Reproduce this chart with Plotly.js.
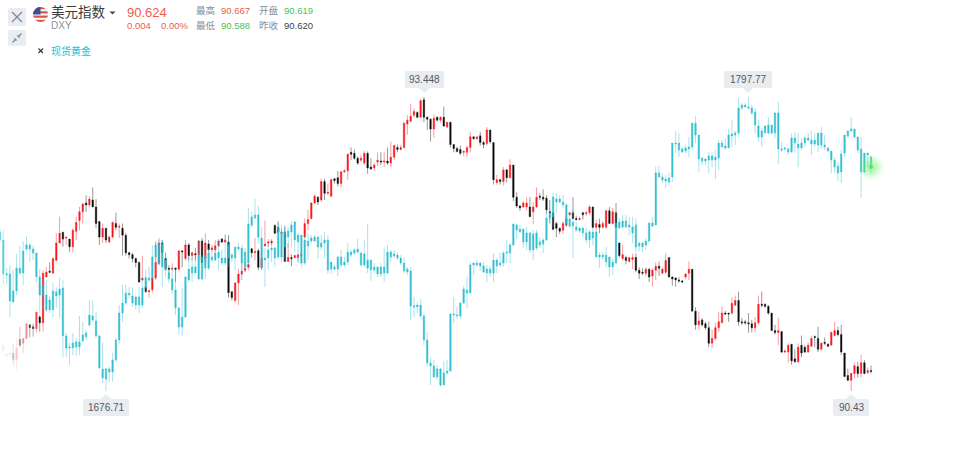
<!DOCTYPE html>
<html>
<head>
<meta charset="utf-8">
<script src="https://cdn.plot.ly/plotly-3.0.1.min.js"></script>
<style>
html,body{margin:0;padding:0;background:#fff;width:960px;height:452px;overflow:hidden}
#wrap{position:relative;width:960px;height:452px}
#chart{position:absolute;left:0;top:0;width:960px;height:452px}
#flag{position:absolute;left:33px;top:7px;width:15px;height:15px}
</style>
</head>
<body>
<div id="wrap">
<div id="chart"></div>
<svg id="flag" viewBox="0 0 14 14">
<defs><clipPath id="c"><circle cx="7" cy="7" r="7"/></clipPath></defs>
<g clip-path="url(#c)">
<rect width="14" height="14" fill="#f7f7f7"/>
<rect y="0" width="14" height="2" fill="#d9534f"/><rect y="4" width="14" height="2" fill="#d9534f"/>
<rect y="8" width="14" height="2" fill="#d9534f"/><rect y="12" width="14" height="2" fill="#d9534f"/>
<rect width="7" height="7" fill="#3f4f8f"/>
</g>
</svg>
</div>
<script>
// 美元指数 DXY: one value per candle
const dxyHigh = [
90.92,90.83,90.84,90.92,90.97,91.09,90.97,91.12,91.11,91.12,
91.24,91.21,91.67,91.70,91.75,91.80,92.05,92.22,92.06,92.01,
91.99,92.10,92.22,92.32,92.36,92.44,92.43,92.52,92.40,92.17,
92.15,92.10,92.03,92.17,92.26,92.15,92.15,92.05,91.86,91.85,
91.80,91.76,91.82,91.60,91.47,91.59,91.96,92.00,91.98,91.85,
91.72,91.74,91.70,91.87,91.87,91.98,91.95,91.86,91.90,91.98,
92.00,92.05,91.98,91.93,91.98,91.99,92.00,92.03,92.03,91.45,
91.55,91.68,91.75,91.74,91.74,91.90,92.00,91.89,91.90,92.18,
91.99,91.99,92.14,92.17,92.10,92.12,91.95,91.83,91.83,91.83,
91.84,92.20,92.29,92.37,92.45,92.43,92.61,92.61,92.56,92.61,
92.61,92.69,92.69,92.71,92.87,92.93,92.91,92.84,92.85,92.89,
92.89,92.82,92.77,92.88,92.88,92.88,92.93,92.99,92.96,92.96,
92.95,93.19,93.26,93.38,93.33,93.30,93.43,93.448,93.25,93.23,
93.27,93.25,93.25,93.35,93.19,93.19,92.96,92.94,92.95,92.90,
92.95,93.09,93.04,93.04,93.09,93.00,93.14,93.11,92.98,92.65,
92.61,92.73,92.71,92.81,92.75,92.47,92.34,92.38,92.42,92.42,
92.37,92.52,92.46,92.50,92.44,92.39,92.26,92.17,92.11,92.17,
92.24,92.27,92.42,92.23,92.22,92.27,92.28,92.34,92.32,92.19,
92.20,92.17,92.29,92.32,92.31,92.36,91.95,91.93,91.82,91.80,
91.84,91.84,91.70,91.69,91.70,91.69,91.69,91.75,91.76,91.70,
91.84,91.80,91.61,91.60,91.60,91.57,91.64,91.76,91.68,91.29,
91.24,91.18,91.14,91.14,91.06,91.13,91.24,91.30,91.25,91.23,
91.39,91.41,91.45,91.18,91.16,91.23,91.16,91.19,91.41,91.45,
91.33,91.31,91.23,91.11,91.18,91.04,90.86,90.92,90.91,90.86,
90.92,91.00,90.90,90.93,91.00,91.00,91.09,90.93,90.98,90.92,
91.04,91.14,91.09,91.11,90.82,90.66,90.62,90.72,90.73,90.80,
90.75,90.67,90.69];
const dxyOpen = [
90.84,90.79,90.80,90.82,90.75,90.96,90.92,90.97,91.11,91.09,
91.07,91.19,91.13,91.60,91.66,91.64,91.77,91.95,92.06,92.00,
91.99,91.91,92.07,92.18,92.27,92.36,92.34,92.39,92.32,92.17,
92.01,92.10,91.96,92.01,92.15,92.11,92.10,92.03,91.85,91.83,
91.79,91.75,91.57,91.50,91.45,91.47,91.59,91.74,91.95,91.79,
91.69,91.68,91.69,91.68,91.87,91.79,91.93,91.82,91.84,91.83,
91.97,91.79,91.94,91.88,91.88,91.92,91.99,91.96,91.96,91.45,
91.36,91.54,91.63,91.67,91.70,91.89,91.85,91.87,91.70,91.92,
91.95,91.95,92.13,92.11,92.05,92.06,91.76,91.80,91.80,91.80,
91.82,92.01,92.15,92.20,92.36,92.42,92.39,92.58,92.46,92.43,
92.61,92.62,92.56,92.68,92.69,92.88,92.87,92.82,92.80,92.77,
92.87,92.73,92.72,92.78,92.79,92.78,92.79,92.77,92.83,92.93,
92.91,92.93,93.17,93.20,93.26,93.29,93.24,93.42,93.24,93.22,
93.12,93.24,93.21,93.24,93.14,93.19,92.96,92.92,92.91,92.88,
92.88,92.93,93.04,93.02,93.05,92.98,92.97,93.11,92.98,92.57,
92.60,92.58,92.70,92.62,92.75,92.42,92.33,92.32,92.32,92.32,
92.27,92.32,92.43,92.42,92.41,92.27,92.26,92.15,92.10,92.08,
92.13,92.24,92.26,92.20,92.19,92.26,92.25,92.26,92.32,92.11,
92.14,92.11,92.11,92.28,92.15,92.26,91.95,91.79,91.80,91.76,
91.78,91.80,91.67,91.65,91.64,91.68,91.61,91.67,91.71,91.64,
91.65,91.80,91.60,91.59,91.57,91.56,91.60,91.64,91.68,91.25,
91.11,91.16,91.12,91.08,90.92,90.97,91.08,91.13,91.23,91.23,
91.23,91.31,91.36,91.14,91.14,91.13,91.12,91.08,91.13,91.32,
91.32,91.30,91.23,91.05,91.03,91.04,90.83,90.83,90.91,90.76,
90.73,90.90,90.88,90.83,90.89,90.99,90.97,90.86,90.93,90.91,
90.90,91.00,91.05,91.01,90.82,90.59,90.54,90.61,90.68,90.61,
90.72,90.62,90.64];
const dxyLow = [
90.80,90.75,90.77,90.68,90.65,90.88,90.82,90.96,90.98,90.99,
91.03,91.04,91.04,91.60,91.64,91.64,91.77,91.95,91.91,91.93,
91.86,91.85,91.98,92.08,92.15,92.27,92.32,92.32,92.10,91.93,
91.95,91.95,91.95,92.00,92.08,92.00,91.82,91.82,91.79,91.75,
91.70,91.54,91.56,91.44,91.39,91.44,91.57,91.72,91.79,91.67,
91.62,91.67,91.55,91.67,91.70,91.77,91.77,91.77,91.77,91.78,
91.75,91.75,91.85,91.85,91.86,91.91,91.95,91.95,91.39,91.36,
91.34,91.31,91.57,91.65,91.67,91.80,91.77,91.67,91.67,91.91,
91.91,91.93,92.04,92.05,92.01,91.76,91.76,91.71,91.79,91.76,
91.79,92.00,92.08,92.19,92.35,92.34,92.37,92.39,92.44,92.42,
92.56,92.53,92.52,92.67,92.60,92.80,92.80,92.75,92.78,92.75,
92.66,92.70,92.69,92.74,92.75,92.73,92.75,92.73,92.80,92.88,
92.90,92.92,93.06,93.19,93.24,93.23,93.23,93.19,93.11,92.99,
93.03,93.20,93.19,93.14,93.13,92.93,92.88,92.88,92.85,92.84,
92.83,92.88,93.01,93.01,92.95,92.92,92.95,92.97,92.55,92.55,
92.55,92.54,92.57,92.61,92.38,92.31,92.28,92.31,92.28,92.22,
92.14,92.31,92.39,92.38,92.25,92.15,92.08,92.01,92.04,92.04,
92.12,92.23,92.21,92.18,92.18,92.19,92.23,92.24,92.10,92.08,
92.05,92.10,92.10,92.15,92.14,92.11,91.80,91.77,91.73,91.75,
91.68,91.65,91.58,91.62,91.61,91.55,91.50,91.57,91.61,91.63,
91.63,91.60,91.51,91.50,91.54,91.54,91.58,91.57,91.25,91.06,
91.06,91.09,91.06,90.88,90.87,90.95,91.04,91.13,91.21,91.14,
91.21,91.31,91.10,91.11,91.11,91.03,91.03,91.03,91.11,91.29,
91.28,91.21,91.05,91.01,90.90,90.82,90.82,90.72,90.70,90.72,
90.72,90.78,90.82,90.82,90.88,90.88,90.83,90.85,90.90,90.88,
90.90,90.99,90.99,90.80,90.57,90.53,90.43,90.56,90.57,90.57,
90.60,90.60,90.61];
const dxyClose = [
90.89,90.81,90.82,90.75,90.87,90.90,90.97,91.12,91.08,91.07,
91.24,91.13,91.64,91.65,91.65,91.79,91.95,92.05,91.99,92.01,
91.91,92.08,92.16,92.27,92.35,92.34,92.40,92.32,92.15,92.01,
92.10,91.98,92.01,92.16,92.11,92.12,92.03,91.85,91.83,91.79,
91.75,91.55,91.59,91.45,91.46,91.59,91.75,91.95,91.85,91.69,
91.68,91.69,91.68,91.87,91.86,91.93,91.82,91.85,91.83,91.97,
91.75,91.95,91.88,91.90,91.92,91.97,91.96,91.98,91.44,91.39,
91.54,91.63,91.66,91.69,91.73,91.85,91.86,91.70,91.79,91.94,
91.96,91.97,92.05,92.06,92.06,91.76,91.80,91.79,91.82,91.83,
91.83,92.15,92.19,92.36,92.43,92.37,92.58,92.46,92.47,92.60,
92.59,92.56,92.68,92.69,92.86,92.86,92.82,92.77,92.82,92.87,
92.72,92.71,92.75,92.80,92.78,92.79,92.77,92.83,92.95,92.91,
92.93,93.18,93.21,93.25,93.30,93.24,93.41,93.24,93.22,93.12,
93.23,93.21,93.24,93.15,93.19,92.96,92.92,92.89,92.87,92.89,
92.93,93.04,93.02,93.04,92.98,92.96,93.11,92.99,92.60,92.60,
92.58,92.70,92.62,92.75,92.42,92.33,92.31,92.36,92.36,92.22,
92.32,92.42,92.42,92.40,92.29,92.26,92.09,92.10,92.07,92.15,
92.20,92.26,92.20,92.19,92.20,92.24,92.26,92.32,92.11,92.15,
92.11,92.15,92.28,92.15,92.27,92.11,91.82,91.83,91.77,91.80,
91.80,91.67,91.64,91.64,91.68,91.60,91.67,91.71,91.69,91.68,
91.77,91.60,91.58,91.57,91.56,91.55,91.63,91.68,91.25,91.11,
91.15,91.11,91.08,90.92,90.97,91.08,91.14,91.23,91.22,91.22,
91.33,91.36,91.14,91.13,91.13,91.12,91.08,91.13,91.32,91.31,
91.30,91.23,91.05,91.03,91.05,90.83,90.84,90.90,90.74,90.73,
90.88,90.82,90.83,90.90,90.97,90.98,90.86,90.92,90.92,90.89,
91.03,91.05,91.01,90.83,90.58,90.54,90.61,90.69,90.61,90.72,
90.61,90.64,90.63];

// 现货黄金 spot gold: one value per candle, starts one candle earlier
const goldHigh = [
1743.4,
1743,1727.3,1728.6,1726.5,1733.1,1736.4,1738.5,1740.5,1737.6,1736.8,
1733.5,1726.9,1722.4,1722.4,1715.8,1721.2,1719.5,1723.2,1722.4,1700.6,
1696.5,1700.6,1698.5,1707.6,1705.1,1701.8,1714.2,1714.2,1709.2,1699.8,
1696.5,1686.2,1686.6,1692.4,1698.5,1712.1,1720.4,1720.4,1719.5,1719.5,
1716.2,1719.5,1723.2,1726.5,1727.8,1736.8,1738.5,1738.9,1738.9,1733.5,
1725.7,1727.3,1724.5,1711.3,1719.1,1723.7,1731.5,1731.5,1732.7,1738.9,
1732.7,1736.8,1735.6,1733.5,1735.6,1738.9,1734.8,1741.3,1740.9,1733.5,
1736,1737.6,1736.8,1735.6,1752.1,1750.4,1755.8,1752.9,1744.2,1735.6,
1737.6,1737.6,1736.4,1746.3,1745.1,1745.1,1744.2,1746.7,1746.7,1741.8,
1740.9,1740.9,1741.8,1740.9,1740.9,1740.1,1740.9,1742.2,1740.9,1729.8,
1728.6,1732.3,1734.8,1731.9,1737.6,1734.8,1735.6,1739.3,1733.9,1738.9,
1745.5,1730.6,1729.4,1727.8,1729.4,1736,1736.8,1734.8,1734.8,1733.9,
1732.7,1731.5,1727.8,1727.8,1715.4,1713.4,1714.6,1708.4,1701,1690.7,
1689.5,1687.4,1686.2,1689.1,1689.5,1708.8,1715.4,1711.3,1713.4,1719.9,
1723.7,1729.8,1729.8,1730.6,1729.8,1729.8,1728.6,1728.2,1733.5,1731.5,
1733.9,1734.4,1738.9,1737.6,1745.5,1745.5,1745.1,1743.4,1744.2,1742.2,
1743,1743,1740.1,1739.7,1750.4,1752.1,1758.2,1758.2,1757.4,1757.4,
1754.1,1750.4,1751.2,1746.3,1744.2,1744.2,1743.8,1743,1743.8,1743,
1733.9,1733.9,1736,1731.9,1731.5,1750.4,1747.9,1749.2,1749.2,1748.4,
1748.4,1747.9,1738.1,1738.1,1739.7,1745.9,1748.4,1769.3,1769.3,1766.5,
1765.6,1766.5,1778.8,1783.8,1782.9,1777.2,1778,1781.3,1787,1789.9,
1782.1,1773,1772.6,1775.1,1775.1,1775.9,1780,1780,1780.9,1784.6,
1788.3,1783.8,1797.3,1795.3,1795.3,1797.77,1794.5,1793.2,1788.3,1785,
1786.2,1789.5,1786.2,1791.6,1795.7,1779.2,1777.2,1776.8,1782.9,1783.3,
1782.9,1780.9,1781.7,1782.9,1783.8,1782.9,1782.9,1785.4,1782.1,1777.2,
1775.5,1773,1771,1775.9,1782.1,1784.2,1789.5,1784.6,1781.3,1781.3,
1774.7,1774.7,1773.5];
const goldOpen = [
1738.9,
1724.9,1724.5,1713.8,1713.4,1717.9,1725.3,1725.3,1735.2,1735.2,1733.5,
1723.7,1716.2,1716.2,1710.1,1710.1,1710.1,1715.8,1716.2,1699.4,1694.4,
1694.4,1694.4,1694.8,1694.8,1697.3,1699,1703.9,1705.9,1699.4,1686.2,
1682.1,1681.6,1684.5,1684.5,1689.5,1697.7,1708.8,1712.9,1716.2,1712.9,
1712.1,1712.1,1712.1,1719.1,1722.4,1723.2,1731.9,1729.4,1727.8,1726.5,
1722.8,1718.3,1710.9,1703.1,1703.1,1707.2,1722.4,1725.3,1725.3,1722.8,
1722.8,1727.3,1727.3,1730.6,1730.6,1731.5,1729.4,1729.4,1731.5,1731.5,
1731.5,1735.2,1729.4,1727.8,1729.4,1745,1747.9,1740.1,1727.3,1730.6,
1731.5,1734.8,1731.5,1731.9,1731.9,1736,1740.1,1742.2,1738.9,1738.1,
1729.4,1729.4,1736.4,1738.5,1738.5,1736,1736,1737.6,1726.5,1726.9,
1726.9,1726.9,1728.6,1728.6,1729.8,1732.7,1733.5,1733.9,1728.6,1728.6,
1727.3,1726.5,1726.5,1724.9,1724.9,1725.3,1725.3,1731.9,1732.3,1731.5,
1729.4,1726.1,1725.7,1711.7,1711.3,1711.3,1707.6,1697.7,1688.2,1687,
1682.5,1682.5,1679.2,1679.2,1684.1,1684.9,1708,1707.6,1707.6,1712.9,
1717.1,1717.1,1728.6,1728.6,1728.2,1725.7,1725.3,1725.3,1725.3,1728.2,
1728.6,1729.4,1733.5,1733.5,1736.8,1743,1742.2,1738.1,1738.1,1734.8,
1734.8,1735.6,1736.8,1737.2,1738.9,1747.9,1748.4,1754.5,1754.5,1753.3,
1745.9,1744.6,1744.6,1743,1742.6,1741.8,1738.9,1738.9,1739.7,1731.9,
1731.9,1731.9,1729.8,1727.8,1727.8,1729.4,1743.8,1744.2,1744.2,1744.2,
1741.8,1736,1736.4,1736,1736.8,1738.5,1744.6,1745.1,1764.8,1763.6,
1763.2,1762.8,1764.8,1778.4,1775.9,1775.1,1775.5,1776.4,1777.2,1782.1,
1772.2,1771.4,1771.4,1771.8,1771.8,1771.8,1772.6,1777.2,1776.8,1776.8,
1781.7,1782.1,1782.9,1793.2,1793.6,1793.2,1791.2,1786.2,1781.3,1781.3,
1782.9,1782.9,1782.9,1782.9,1776.4,1775.9,1776.4,1775.1,1775.1,1778.8,
1776.8,1776.8,1778.8,1780,1778.4,1778.4,1778,1778,1777.2,1775.5,
1771.8,1768.9,1766.5,1766.9,1774.7,1781.7,1783.8,1781.3,1775.9,1766.9,
1766.9,1773.9,1773.1];
const goldLow = [
1738.1,
1720.8,1720.8,1707.2,1713,1716.2,1724.5,1720.3,1733.9,1729.8,1730.6,
1721.6,1708.8,1710.1,1709.2,1708.8,1707.2,1710.9,1706.8,1690.7,1690.7,
1687.4,1691.5,1691.1,1691.5,1696.9,1697.7,1703.1,1705.1,1698.5,1685.8,
1680,1676.71,1680.4,1680.4,1688.6,1696.1,1705.1,1712.1,1715,1711.3,
1710.1,1708.8,1710.9,1717.5,1721.6,1722.4,1724.5,1728.6,1719.5,1723.7,
1721.2,1716.7,1708,1699.8,1699.4,1706.8,1721.6,1721.6,1725.3,1722.4,
1722.4,1722.8,1726.5,1729.8,1730.2,1726.5,1728.6,1728.6,1727.8,1729.8,
1726.5,1734.4,1724.5,1725.7,1728.6,1743.8,1747.5,1737.6,1726.5,1719.5,
1726.5,1729.8,1727.8,1730.6,1729.8,1729.8,1735.6,1736,1733.9,1729.4,
1727.8,1728.6,1730.6,1737.6,1738.1,1731,1734.8,1731.5,1724.9,1724.9,
1726.1,1724.1,1727.8,1727.8,1728.6,1731.9,1732.7,1733.1,1727.8,1727.8,
1725.3,1722,1725.3,1723.7,1723.7,1721.6,1724.9,1729.8,1731.5,1730.6,
1728.6,1725.3,1724.5,1705.9,1707.2,1708.8,1707.2,1695.6,1686.6,1679.2,
1682.1,1681.2,1678.4,1679.2,1683.3,1684.9,1704.7,1706.4,1706.4,1712.5,
1710.9,1717.1,1724.5,1727.8,1726.1,1725.3,1721.6,1723.7,1721.6,1725.3,
1727.8,1727.8,1729.4,1729.4,1736.4,1739.3,1741.8,1735.6,1734.8,1733.5,
1730.6,1734.8,1735.6,1733.5,1738.5,1747.1,1744.2,1750,1754.1,1752.1,
1744.2,1743.8,1731.5,1742.2,1741.8,1740.1,1737.6,1735.6,1736.8,1731.9,
1727.4,1730.6,1727.8,1723.7,1724.5,1729,1743.4,1743.8,1743.8,1740.9,
1737.6,1733.9,1734.4,1733.9,1734.8,1737.6,1744.2,1745.1,1764.4,1762.3,
1760.3,1761.5,1762.8,1774.7,1773.1,1774.7,1774.7,1773.1,1775.9,1778.8,
1766.9,1769.8,1769.8,1766.5,1768.9,1764,1767.7,1776.8,1775.9,1776.8,
1777.2,1778,1781.3,1792.4,1793.6,1792.4,1790.3,1782.9,1779.2,1777.2,
1782.9,1782.1,1782.1,1780.9,1770.2,1775.1,1775.5,1773.9,1774.7,1774.7,
1768.9,1775.9,1777.2,1779.6,1773.9,1777.2,1775.1,1776.8,1775.9,1775.1,
1766.5,1766.5,1763.2,1762.3,1773.1,1780.9,1783.3,1780.9,1774.7,1756.2,
1766.5,1768.9,1766.5];
const goldClose = [
1742.2,
1738.9,1724.9,1724.9,1717.9,1727.3,1727.3,1734.4,1736.8,1736.8,1735.2,
1733.5,1723.7,1720.3,1716.2,1714.2,1717.9,1717.5,1718.7,1719.1,1699.4,
1694.8,1696.5,1696.9,1696.9,1699.8,1700.6,1708,1707.6,1705.5,1699.4,
1685.8,1685.8,1685.8,1689.5,1697.7,1708.8,1712.9,1717,1717,1715.8,
1715.4,1715.4,1719.1,1723.2,1723.2,1731.9,1736.8,1737.2,1737.2,1730.6,
1725.3,1722.8,1718.3,1710.9,1707.2,1723.7,1726.9,1727.8,1727.8,1732.7,
1731.9,1732.7,1733.5,1731.9,1733.5,1733.9,1731.5,1731.5,1736.8,1732.7,
1736,1736,1735.6,1733.9,1745.5,1748.4,1749.2,1749.2,1739.7,1731.5,
1734.8,1735.6,1735.6,1744.2,1742.2,1742.2,1742.6,1745.1,1746.3,1740.9,
1740.9,1738.9,1738.5,1739.7,1740.1,1740.1,1737.6,1738.9,1738.9,1729.8,
1727.8,1731.9,1731.9,1729.8,1733.9,1733.9,1734.8,1735.2,1733.5,1733.1,
1730.6,1730.6,1727.8,1727.8,1727.8,1727.8,1733.9,1733.9,1733.1,1732.7,
1731.5,1729.4,1726.9,1726.1,1711.7,1712.1,1712.1,1707.6,1697.7,1688.2,
1687,1685.8,1685.8,1684.1,1684.9,1708.4,1708.4,1708,1712.9,1718.7,
1718.3,1728.6,1729.4,1729.4,1729.4,1728.2,1726.9,1726.9,1730.6,1730.6,
1729.4,1733.5,1733.9,1736.8,1745.5,1745.1,1743.4,1743.4,1741.8,1741.8,
1741.4,1741.8,1738.1,1738.9,1747.9,1749.6,1756.6,1755.8,1755.8,1754.5,
1753.3,1747.5,1746.3,1744.2,1743.8,1743.8,1741.8,1742.2,1742.2,1742.2,
1732.7,1732.7,1732.7,1731.9,1729.8,1745.9,1746.3,1746.7,1746.7,1745.1,
1744.2,1745.1,1737.6,1737.6,1738.5,1745.9,1745.9,1766.5,1766.5,1764.8,
1764,1764.4,1778.8,1778.8,1778.8,1776.4,1776.8,1777.2,1787,1787,
1782.1,1772.6,1772.2,1773.5,1773.5,1773,1778.8,1778.8,1777.6,1782.1,
1782.5,1782.9,1793.2,1794.5,1794.5,1793.6,1793.2,1791.6,1785.8,1783.8,
1785.8,1786.2,1786.2,1791.2,1791.2,1776.4,1776.8,1776.4,1780.9,1780.9,
1778.4,1778.8,1780.9,1780.9,1780,1780,1782.9,1782.9,1778,1776.8,
1775.5,1771.8,1769.3,1774.3,1782.1,1783.8,1784.6,1784.6,1781.3,1776.4,
1774.7,1774.7,1768.9];

const labels = {dxyHigh:"93.448", dxyLow:"90.43", goldHigh:"1797.77", goldLow:"1676.71"};

const W = 960, H = 452;
const px = x => x / W, py = y => 1 - y / H;

function candles(arrO, arrH, arrL, arrC, start, from, to, up, down, yaxis, opacity) {
  const xs = [];
  for (let i = from; i < to; i++) xs.push(i + start);
  const style = c => ({line: {color: c[0], width: 1}, fillcolor: c[1]});
  return {type: 'candlestick', x: xs,
    open: arrO.slice(from, to), high: arrH.slice(from, to), low: arrL.slice(from, to), close: arrC.slice(from, to),
    increasing: style(up), decreasing: style(down), yaxis: yaxis, opacity: opacity,
    whiskerwidth: 0, hoverinfo: 'skip', showlegend: false};
}
const red = ['rgba(245,20,30,0.42)', '#fa1a22'];
const black = ['rgba(10,10,10,0.42)', '#0a0a0a'];
const teal = ['rgba(38,188,205,0.42)', '#2bbdce'];
const n = dxyHigh.length;
const traces = [
  candles(dxyOpen, dxyHigh, dxyLow, dxyClose, 0, 0, 3, red, black, 'y', 0.1),
  candles(dxyOpen, dxyHigh, dxyLow, dxyClose, 0, 3, 5, red, black, 'y', 0.25),
  candles(dxyOpen, dxyHigh, dxyLow, dxyClose, 0, 5, 8, red, black, 'y', 0.5),
  candles(dxyOpen, dxyHigh, dxyLow, dxyClose, 0, 8, 11, red, black, 'y', 0.8),
  candles(dxyOpen, dxyHigh, dxyLow, dxyClose, 0, 11, n, red, black, 'y', 1),
  candles(goldOpen, goldHigh, goldLow, goldClose, -1, 0, 2, teal, teal, 'y2', 0.75),
  candles(goldOpen, goldHigh, goldLow, goldClose, -1, 2, goldHigh.length, teal, teal, 'y2', 0.95),
  {type: 'scatter', mode: 'markers', x: [goldHigh.length - 2], y: [goldClose[goldClose.length - 1]], yaxis: 'y2',
   marker: {size: 26, color: 'rgba(120,240,120,0)', line: {width: 0}, gradient: {type: 'radial', color: 'rgba(120,240,120,0.75)'}},
   hoverinfo: 'skip', showlegend: false},
  {type: 'scatter', mode: 'markers', x: [goldHigh.length - 2], y: [goldClose[goldClose.length - 1]], yaxis: 'y2',
   marker: {size: 4, color: 'rgba(87,217,87,0.8)', line: {width: 0}}, hoverinfo: 'skip', showlegend: false}
];

function rr(x0, y0, x1, y1, r) {
  const X = px, Y = py;
  return `M${X(x0 + r)},${Y(y0)}L${X(x1 - r)},${Y(y0)}Q${X(x1)},${Y(y0)} ${X(x1)},${Y(y0 + r)}` +
    `L${X(x1)},${Y(y1 - r)}Q${X(x1)},${Y(y1)} ${X(x1 - r)},${Y(y1)}L${X(x0 + r)},${Y(y1)}` +
    `Q${X(x0)},${Y(y1)} ${X(x0)},${Y(y1 - r)}L${X(x0)},${Y(y0 + r)}Q${X(x0)},${Y(y0)} ${X(x0 + r)},${Y(y0)}Z`;
}
const boxFill = '#e9ecf0', iconLine = '#7f8a99';
const shape = (path, fill, line, width) => ({type: 'path', xref: 'paper', yref: 'paper', path: path,
  fillcolor: fill || 'rgba(0,0,0,0)', line: {color: line || 'rgba(0,0,0,0)', width: width || 0}, layer: 'above'});
const seg = (x0, y0, x1, y1, c, w) => shape(`M${px(x0)},${py(y0)}L${px(x1)},${py(y1)}`, null, c, w);
const tri = (a, b, c, fill) => shape(`M${px(a[0])},${py(a[1])}L${px(b[0])},${py(b[1])}L${px(c[0])},${py(c[1])}Z`, fill);

const shapes = [
  shape(rr(8, 8, 26, 26, 2), boxFill),
  seg(12, 12, 22, 22, iconLine, 1.2), seg(22, 12, 12, 22, iconLine, 1.2),
  shape(rr(8, 30, 26, 46, 2), boxFill),
  seg(12.5, 42.5, 15.5, 39.5, iconLine, 1.2), seg(18.5, 36.5, 21.5, 33.5, iconLine, 1.2),
  tri([14.5, 37.5], [17.5, 40.5], [14.5, 40.5], iconLine), tri([16.5, 35.5], [19.5, 38.5], [19.5, 35.5], iconLine),
  tri([109.5, 11.5], [115.5, 11.5], [112.5, 14.5], '#444'),
  seg(38.5, 48.5, 43, 53, '#333', 1.1), seg(43, 48.5, 38.5, 53, '#333', 1.1),
  shape(rr(405, 71, 444, 88, 2), boxFill), tri([419, 88], [430, 88], [424.5, 93], boxFill),
  shape(rr(724, 71, 772, 88, 2), boxFill), tri([742.5, 88], [753.5, 88], [748, 93], boxFill),
  shape(rr(83, 399, 129, 416, 2), boxFill), tri([100.5, 399], [111.5, 399], [106, 394], boxFill),
  shape(rr(833, 399, 869, 416, 2), boxFill), tri([845.5, 399], [856.5, 399], [851, 394], boxFill)
];

const FONT = '"Liberation Sans","Noto Sans CJK SC",sans-serif';
const txt = (x, y, text, size, color, anchor) => ({xref: 'paper', yref: 'paper', x: px(x), y: py(y), text: text,
  showarrow: false, xanchor: anchor || 'left', yanchor: 'middle', borderpad: 0, borderwidth: 0,
  font: {family: FONT, size: size, color: color}});
const up = '#ef5a52', dn = '#45c552', grey = '#8a8f98', dark = '#3a3f47';
const annotations = [
  txt(51, 13, '美元指数', 13.5, '#3a3a3a'),
  txt(51, 25, 'DXY', 10, grey),
  txt(127, 12, '90.624', 13, up),
  txt(127, 25, '0.004', 9.5, up),
  txt(161, 25, '0.00%', 9.5, up),
  txt(196, 11, '最高', 9.5, grey), txt(221, 11, '90.667', 9.5, up),
  txt(259, 11, '开盘', 9.5, grey), txt(284, 11, '90.619', 9.5, dn),
  txt(196, 25, '最低', 9.5, grey), txt(221, 25, '90.588', 9.5, dn),
  txt(259, 25, '昨收', 9.5, grey), txt(284, 25, '90.620', 9.5, dark),
  txt(51, 51, '现货黄金', 10, '#2bbdce'),
  txt(424.5, 79.5, labels.dxyHigh, 10, '#555a62', 'center'),
  txt(748, 79.5, labels.goldHigh, 10, '#555a62', 'center'),
  txt(106, 407.5, labels.goldLow, 10, '#555a62', 'center'),
  txt(851, 407.5, labels.dxyLow, 10, '#555a62', 'center')
];

const layout = {
  width: W, height: H, margin: {l: 0, r: 0, t: 0, b: 0},
  paper_bgcolor: '#fff', plot_bgcolor: '#fff', showlegend: false, boxgap: 0.36, hovermode: false,
  xaxis: {visible: false, range: [-0.996, 288.86], fixedrange: true, rangeslider: {visible: false}},
  yaxis: {visible: false, range: [89.804, 94.444], fixedrange: true},
  yaxis2: {visible: false, range: [1651.59, 1837.71], overlaying: 'y', fixedrange: true},
  shapes: shapes, annotations: annotations
};
Plotly.newPlot('chart', traces, layout, {displayModeBar: false, staticPlot: true});
</script>
</body>
</html>
